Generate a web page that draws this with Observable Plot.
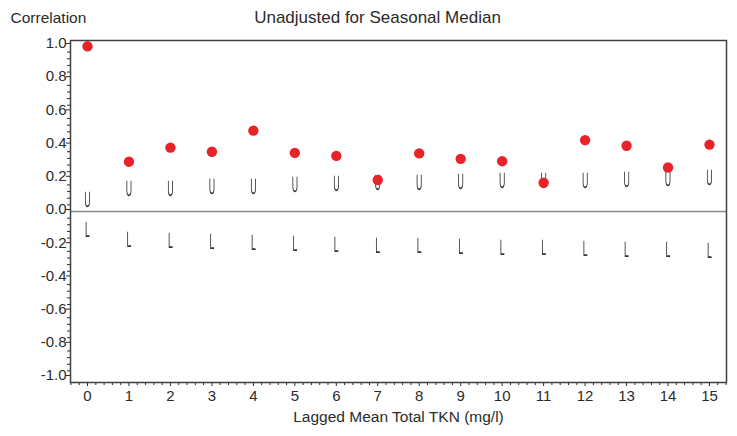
<!DOCTYPE html>
<html>
<head>
<meta charset="utf-8">
<script src="https://cdn.jsdelivr.net/npm/d3@7"></script>
<script src="https://cdn.jsdelivr.net/npm/@observablehq/plot@0.6"></script>
<style>
  body { margin: 0; background: #fff; }
  svg { font-family: "Liberation Sans", Arial, sans-serif; }
  .limit-mark { opacity: 0.99; will-change: transform; text-rendering: geometricPrecision; }
</style>
</head>
<body>
<div id="chart"></div>
<script>
// ---- data ----
const lags = [0, 1, 2, 3, 4, 5, 6, 7, 8, 9, 10, 11, 12, 13, 14, 15];
const correlation = [0.995, 0.30, 0.385, 0.36, 0.487, 0.353, 0.335, 0.19, 0.35, 0.317, 0.303, 0.173, 0.43, 0.396, 0.265, 0.403];
const upperLimit = [0.07, 0.136, 0.138, 0.146, 0.15, 0.16, 0.166, 0.172, 0.174, 0.18, 0.181, 0.184, 0.186, 0.192, 0.198, 0.2];
const lowerLimit = [-0.11, -0.174, -0.175, -0.184, -0.19, -0.194, -0.2, -0.205, -0.208, -0.214, -0.218, -0.22, -0.224, -0.23, -0.234, -0.238];
const xTicks = [0, 1, 2, 3, 4, 5, 6, 7, 8, 9, 10, 11, 12, 13, 14, 15];
const yTicks = [-1.0, -0.8, -0.6, -0.4, -0.2, 0.0, 0.2, 0.4, 0.6, 0.8, 1.0];
const title = "Unadjusted for Seasonal Median";
const yLabel = "Correlation";
const xLabel = "Lagged Mean Total TKN (mg/l)";

const table = lags.map((lag, i) => ({lag, r: correlation[i], u: upperLimit[i], l: lowerLimit[i]}));
const xMinor = d3.range(-0.4, 15.41, 0.2).filter(v => Math.abs(v - Math.round(v)) > 1e-6);
const yMinor = d3.range(-1.0, 1.001, 0.04).filter(v => Math.abs(v * 5 - Math.round(v * 5)) > 1e-6);

const ink = "#2b2b2b";
const chart = Plot.plot({
  width: 737,
  height: 436,
  marginLeft: 70,
  marginRight: 11,
  marginTop: 40,
  marginBottom: 54,
  style: {fontSize: "15px", fontFamily: "'Liberation Sans', Arial, sans-serif", color: ink, background: "#fff"},
  x: {domain: [-0.41, 15.41]},
  y: {domain: [-1.03, 1.03]},
  marks: [
    Plot.ruleY([0], {stroke: "#8a8a8a", strokeWidth: 1.5}),
    Plot.axisX(xMinor, {tickSize: 3, tickFormat: () => "", label: null, stroke: ink}),
    Plot.axisX(xTicks, {tickSize: 4, tickPadding: 4, tickFormat: d => String(d), label: null, stroke: ink, fill: ink}),
    Plot.axisY(yMinor, {tickSize: 3, tickFormat: () => "", label: null, stroke: ink}),
    Plot.axisY(yTicks, {tickSize: 4, tickPadding: 0, dy: -2, tickFormat: d => d.toFixed(1), label: null, stroke: ink, fill: ink}),
    Plot.frame({stroke: "#404040", strokeWidth: 1.5}),
    Plot.text(table, {x: "lag", y: "u", text: () => "U", fontSize: 22, fill: "#333"}),
    Plot.text(table, {x: "lag", y: "l", text: () => "L", fontSize: 22, fill: "#333"}),
    Plot.dot(table, {x: "lag", y: "r", r: 5.2, fill: "#e8232a", stroke: null}),
    Plot.text([title], {text: d => d, frameAnchor: "top", dx: -21, dy: -30, fontSize: 17, fill: ink}),
    Plot.text([yLabel], {text: d => d, frameAnchor: "top-left", textAnchor: "start", dx: -60, dy: -29, fontSize: 15.5, fill: ink}),
    Plot.text([xLabel], {text: d => d, frameAnchor: "bottom", dy: 39, fontSize: 15.5, fill: ink})
  ]
});

document.getElementById("chart").appendChild(chart);

// narrow the U / L marker glyphs (condensed text markers as in the reference)
const svgEl = chart.tagName.toLowerCase() === "svg" ? chart : chart.querySelector("svg");
Array.from(svgEl.querySelectorAll("text")).forEach(el => {
  const t = el.textContent.trim();
  if (t !== "U" && t !== "L") return;
  let tx = 0, ty = 0;
  const tr = el.getAttribute("transform");
  if (tr) {
    const m = /translate\(\s*([-\d.e]+)[ ,]+([-\d.e]+)\s*\)/.exec(tr);
    if (m) { tx = +m[1]; ty = +m[2]; }
  }
  const xa = el.getAttribute("x");
  if (xa && !/em$/.test(xa)) { tx += parseFloat(xa); el.removeAttribute("x"); }
  const ya = el.getAttribute("y");
  if (ya && !/em$/.test(ya)) { ty += parseFloat(ya); el.removeAttribute("y"); }
  el.setAttribute("transform", `translate(${tx},${ty}) scale(0.4,1)`);
  el.setAttribute("class", "limit-mark");
});
</script>
</body>
</html>
